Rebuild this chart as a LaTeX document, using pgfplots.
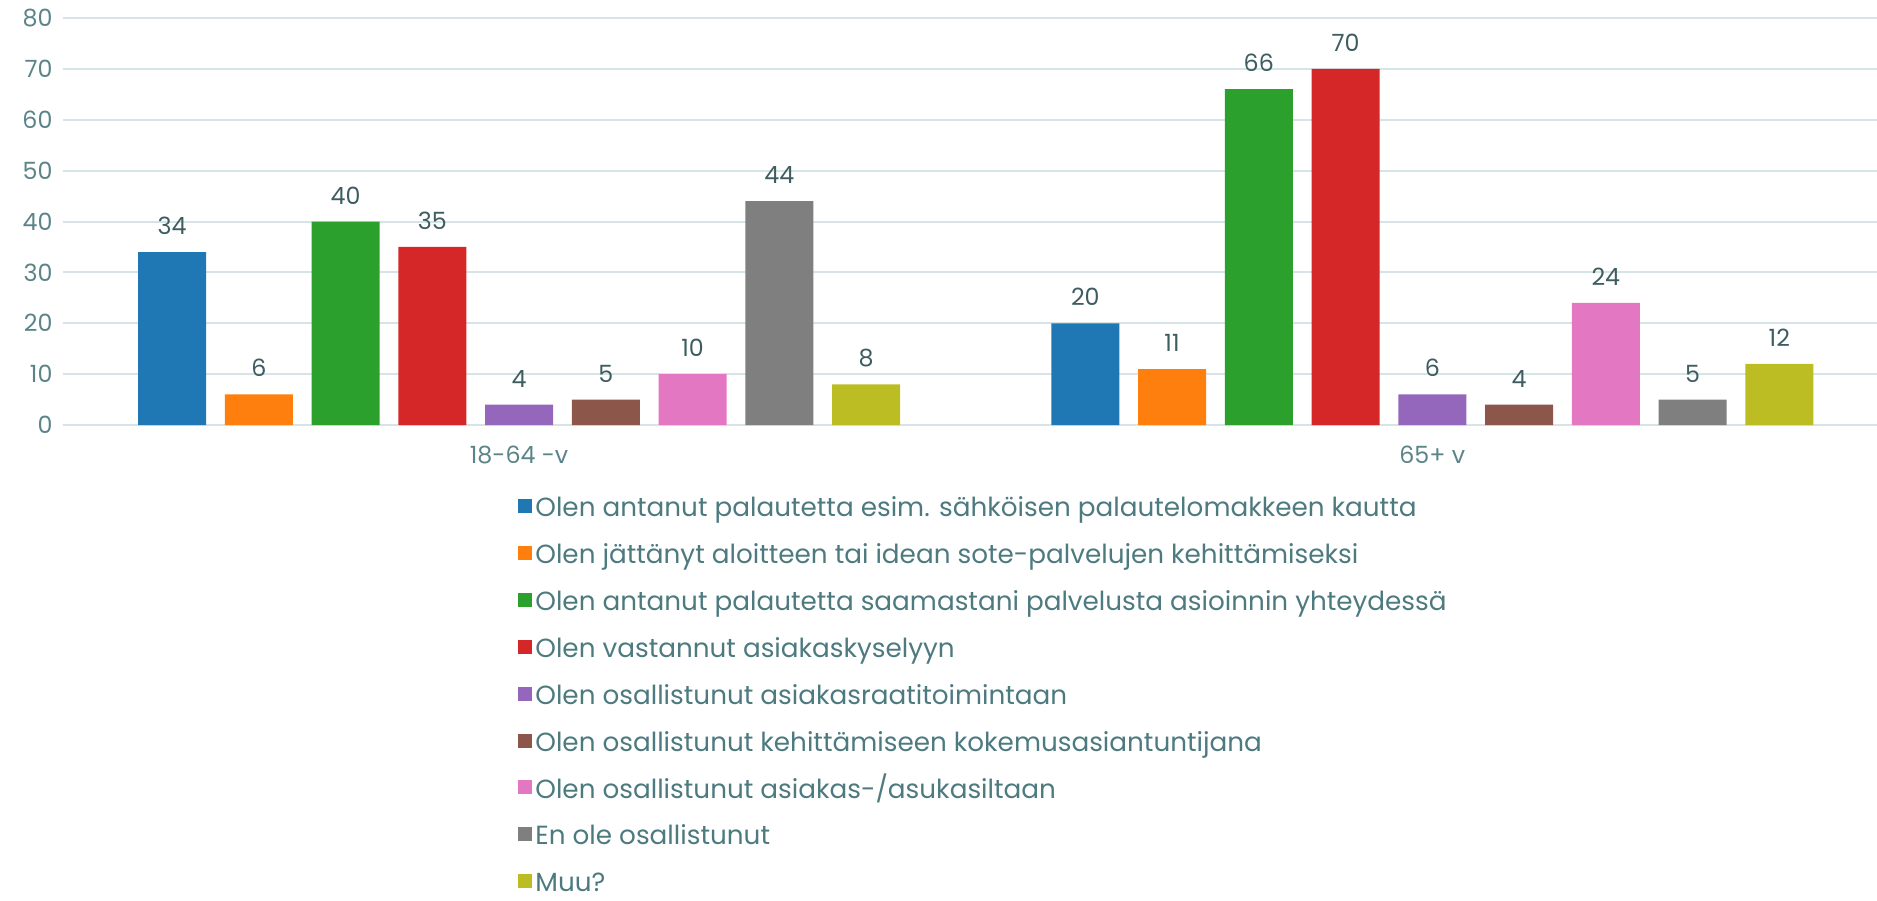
\documentclass[border=0pt]{standalone}
\usepackage{fontspec}
\setmainfont{Poppins}
\usepackage{pgfplots}
\pgfplotsset{compat=1.18}

\definecolor{c1}{HTML}{1F77B4}
\definecolor{c2}{HTML}{FF7F0E}
\definecolor{c3}{HTML}{2CA02C}
\definecolor{c4}{HTML}{D62728}
\definecolor{c5}{HTML}{9467BD}
\definecolor{c6}{HTML}{8C564B}
\definecolor{c7}{HTML}{E377C2}
\definecolor{c8}{HTML}{7F7F7F}
\definecolor{c9}{HTML}{BCBD22}
\definecolor{tickc}{HTML}{5B8489}
\definecolor{labc}{HTML}{3E5D61}
\definecolor{legc}{HTML}{4D7A7F}
\definecolor{gridc}{HTML}{D6E4E7}

\begin{document}
\begin{tikzpicture}
\begin{axis}[
    name=ax,
    scale only axis,
    width=725.8pt,
    height=162.8pt,
    ybar=7.5pt,
    bar width=27.2pt,
    xmin=-0.5, xmax=1.487,
    ymin=0, ymax=80,
    ytick distance=10,
    xtick={0,1},
    xticklabels={18-64 -v,65+ v},
    axis line style={draw=none},
    major tick length=0pt,
    ymajorgrids,
    grid style={gridc, line width=0.8pt},
    tick label style={font=\fontsize{9.5}{11}\selectfont, color=tickc},
    /pgf/number format/assume math mode=true,
    yticklabel style={xshift=-0.5pt},
    xticklabel style={yshift=-5pt},
    nodes near coords,
    every node near coord/.append style={font=\fontsize{9.5}{11}\selectfont, color=labc, anchor=south, inner sep=0pt, yshift=6.8pt},
    legend cell align=left,
    legend image code/.code={\fill[#1] (0pt,-2.8pt) rectangle (5.6pt,2.8pt);},
    legend style={at={(0.2507,-0.163)}, anchor=north west, draw=none, fill=none,
        inner sep=0pt, font=\fontsize{10.5}{12}\selectfont, text=legc,
        row sep=7.25pt, column sep=1.4pt,
        nodes={inner sep=0pt, text height=10pt, text depth=1.5pt}},
]
\addplot[fill=c1, draw=none] coordinates {(0,34) (1,20)};
\addplot[fill=c2, draw=none] coordinates {(0,6) (1,11)};
\addplot[fill=c3, draw=none] coordinates {(0,40) (1,66)};
\addplot[fill=c4, draw=none] coordinates {(0,35) (1,70)};
\addplot[fill=c5, draw=none] coordinates {(0,4) (1,6)};
\addplot[fill=c6, draw=none] coordinates {(0,5) (1,4)};
\addplot[fill=c7, draw=none] coordinates {(0,10) (1,24)};
\addplot[fill=c8, draw=none] coordinates {(0,44) (1,5)};
\addplot[fill=c9, draw=none] coordinates {(0,8) (1,12)};
\legend{Olen antanut palautetta esim. sähköisen palautelomakkeen kautta,
Olen jättänyt aloitteen tai idean sote-palvelujen kehittämiseksi,
Olen antanut palautetta saamastani palvelusta asioinnin yhteydessä,
Olen vastannut asiakaskyselyyn,
Olen osallistunut asiakasraatitoimintaan,
Olen osallistunut kehittämiseen kokemusasiantuntijana,
Olen osallistunut asiakas-/asukasiltaan,
En ole osallistunut,
Muu?}
\end{axis}
\pgfresetboundingbox
\path ([shift={(-25pt,-190.4pt)}]ax.south west) rectangle ([shift={(0pt,7.2pt)}]ax.north east);
\end{tikzpicture}
\end{document}
